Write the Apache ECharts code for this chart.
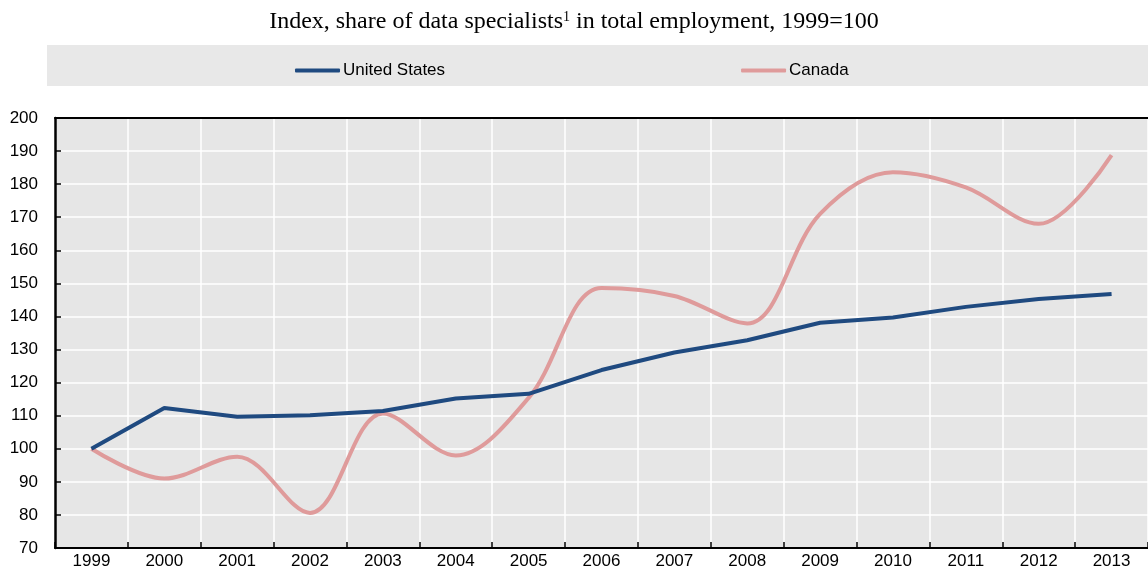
<!DOCTYPE html>
<html>
<head>
<meta charset="utf-8">
<script src="https://cdn.jsdelivr.net/npm/echarts@6/dist/echarts.min.js"></script>
<style>
  html, body { margin: 0; padding: 0; background: #fff; }
  #main { width: 1148px; height: 574px; }
</style>
</head>
<body>
<div id="main"></div>
<script>
var years = ['1999', '2000', '2001', '2002', '2003', '2004', '2005', '2006',
  '2007', '2008', '2009', '2010', '2011', '2012', '2013']
var unitedStates = [100, 112.3, 109.7, 110.1, 111.4, 115.2, 116.6, 123.8,
  129.1, 132.8, 138.1, 139.7, 142.9, 145.3, 146.8]
var canada = [100, 91, 97.6, 80.6, 110.7, 98, 115.4, 148.6,
  146.2, 137.9, 171, 183.6, 179, 168, 188.8]

var textFont = "'Liberation Sans', Arial, sans-serif"
var serifFont = "'Liberation Serif', 'Times New Roman', serif"

var myChart = echarts.init(document.getElementById('main'))
var option = {
  animation: false,
  title: {
    text: 'Index, share of data specialists{sup|1} in total employment, 1999=100',
    left: 'center',
    top: 5,
    textStyle: {
      fontFamily: serifFont,
      fontSize: 24,
      fontWeight: 'normal',
      color: '#000',
      rich: {
        sup: {
          fontFamily: serifFont,
          fontSize: 14,
          verticalAlign: 'top',
          padding: [0, 0, 10, 0]
        }
      }
    }
  },
  graphic: [
    {
      type: 'rect',
      z: -10,
      shape: { x: 47, y: 45, width: 1101, height: 41 },
      style: { fill: '#e8e8e8' }
    }
  ],
  legend: {
    left: 290,
    top: 57,
    icon: 'roundRect',
    itemWidth: 45,
    itemHeight: 4,
    itemGap: 296,
    textStyle: { fontFamily: textFont, fontSize: 17, color: '#000', padding: [0, 0, 0, -2] },
    data: ['United States', 'Canada']
  },
  grid: {
    left: 55,
    right: -5,
    top: 118,
    bottom: 26,
    show: true,
    backgroundColor: '#e6e6e6',
    borderWidth: 0
  },
  xAxis: [
    {
      type: 'category',
      data: years,
      boundaryGap: true,
      axisLine: { lineStyle: { color: '#000', width: 2 } },
      axisTick: { show: true, inside: true, length: 6, lineStyle: { color: '#000', width: 1.5 } },
      axisLabel: { fontFamily: textFont, fontSize: 17, color: '#000', margin: 5, interval: 0 },
      splitLine: { show: true, lineStyle: { color: '#fff', width: 1.5 } }
    },
    {
      type: 'category',
      data: years,
      position: 'top',
      axisLine: { lineStyle: { color: '#000', width: 2 } },
      axisTick: { show: false },
      axisLabel: { show: false },
      splitLine: { show: false }
    }
  ],
  yAxis: {
    type: 'value',
    min: 70,
    max: 200,
    interval: 10,
    axisLine: { show: true, lineStyle: { color: '#000', width: 2.5 } },
    axisTick: { show: true, inside: true, length: 6, lineStyle: { color: '#000', width: 1.5 } },
    axisLabel: { fontFamily: textFont, fontSize: 17, color: '#000', margin: 17 },
    splitLine: { show: true, lineStyle: { color: '#fff', width: 1.5 } }
  },
  series: [
    {
      name: 'United States',
      type: 'line',
      data: unitedStates,
      symbol: 'none',
      color: '#1f4a80',
      lineStyle: { color: '#1f4a80', width: 4 },
      z: 3
    },
    {
      name: 'Canada',
      type: 'line',
      data: canada,
      symbol: 'none',
      smooth: 0.35,
      color: '#df9b9b',
      lineStyle: { color: '#df9b9b', width: 4 },
      z: 2
    }
  ]
}
myChart.setOption(option)
</script>
</body>
</html>
